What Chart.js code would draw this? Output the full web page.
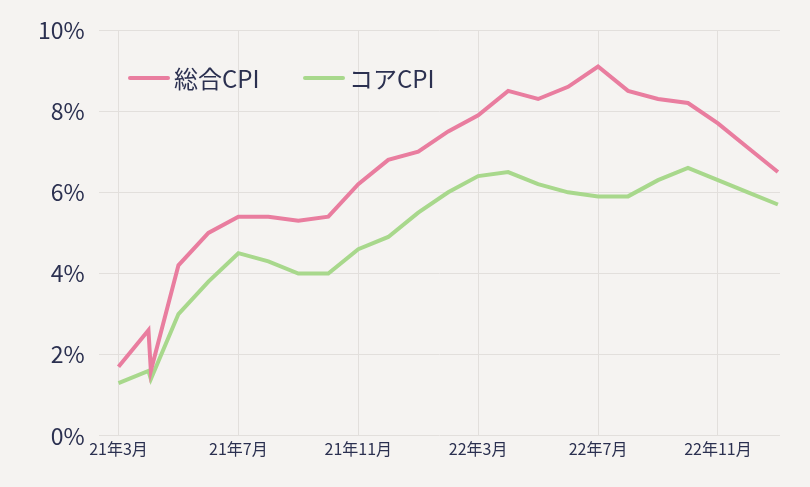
<!DOCTYPE html>
<html><head><meta charset="utf-8">
<script src="https://cdn.jsdelivr.net/npm/chart.js@4/dist/chart.umd.min.js"></script>
<style>
html,body{margin:0;background:#f5f3f1;}
#wrap{width:810px;height:487px;}
</style></head>
<body><div id="wrap"><canvas id="c"></canvas></div>
<script>
// month index from 21年3月 (extra point just after index 1 as in the source)
const months = [0,1,1.08,2,3,4,5,6,7,8,9,10,11,12,13,14,15,16,17,18,19,20,21,22];
const headline = [1.7,2.6,1.6,4.2,5.0,5.4,5.4,5.3,5.4,6.2,6.8,7.0,7.5,7.9,8.5,8.3,8.6,9.1,8.5,8.3,8.2,7.7,7.1,6.5];
const core = [1.3,1.6,1.4,3.0,3.8,4.5,4.3,4.0,4.0,4.6,4.9,5.5,6.0,6.4,6.5,6.2,6.0,5.9,5.9,6.3,6.6,6.3,6.0,5.7];
const tickLabels = {0:"21年3月",4:"21年7月",8:"21年11月",12:"22年3月",16:"22年7月",20:"22年11月"};
const ink = "#2b3050";
const font = "'Noto Sans CJK JP', 'Noto Sans', sans-serif";

const legendIn = {
  id: "legendIn",
  afterDraw(ch) {
    const c = ch.ctx;
    c.save();
    c.lineWidth = 4; c.lineCap = "round";
    c.font = "24px " + font; c.fillStyle = ink; c.textBaseline = "middle";
    [["総合CPI", "#e97d9f", 130], ["コアCPI", "#a8d88c", 305]].forEach(([t, col, x]) => {
      c.strokeStyle = col;
      c.beginPath(); c.moveTo(x, 78); c.lineTo(x + 38, 78); c.stroke();
      c.fillText(t, x + 44, 79);
    });
    c.restore();
  }
};

new Chart(document.getElementById("c"), {
  type: "line",
  data: {
    datasets: [
      { label: "総合CPI", data: months.map((m, i) => ({ x: m, y: headline[i] })), borderColor: "#e97d9f", borderWidth: 4, pointRadius: 0, tension: 0 },
      { label: "コアCPI", data: months.map((m, i) => ({ x: m, y: core[i] })), borderColor: "#a8d88c", borderWidth: 4, pointRadius: 0, tension: 0 }
    ]
  },
  options: {
    responsive: true, maintainAspectRatio: false, animation: false,
    layout: { padding: { top: 30, right: 30, left: 24, bottom: 24 } },
    plugins: { legend: { display: false }, tooltip: { enabled: false } },
    scales: {
      x: {
        type: "linear", min: -0.66, max: 22.07,
        afterBuildTicks: (ax) => { ax.ticks = Object.keys(tickLabels).map(v => ({ value: +v })); },
        ticks: { callback: (v) => tickLabels[v] || "", color: ink, font: { size: 16, family: font }, maxRotation: 0, padding: 4 },
        grid: { color: "#e2dfdc", drawTicks: false },
        border: { display: false }
      },
      y: {
        min: 0, max: 10,
        ticks: { stepSize: 2, callback: (v) => v + "%", color: ink, font: { size: 23, family: font }, padding: 14 },
        grid: { color: "#e2dfdc", drawTicks: false },
        border: { display: false }
      }
    }
  },
  plugins: [legendIn]
});
</script></body></html>
